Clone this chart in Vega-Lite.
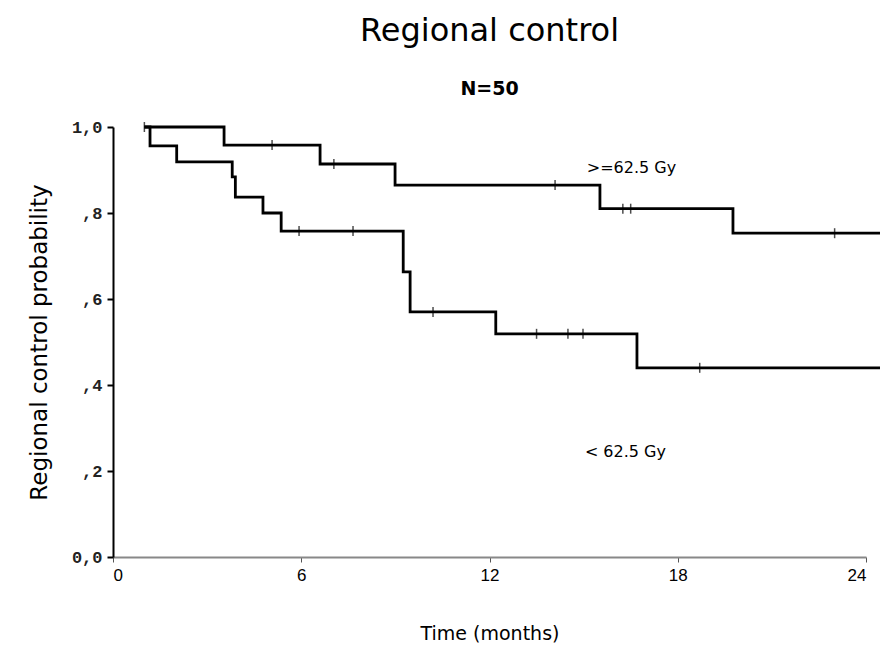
{
  "$schema": "https://vega.github.io/schema/vega-lite/v6.json",
  "autosize": {"type": "none"},
  "padding": {"left": 113, "top": 127, "right": 14, "bottom": 96},
  "width": 753,
  "height": 430,
  "background": "white",
  "title": {
    "text": "Regional control",
    "subtitle": "N=50",
    "anchor": "middle",
    "font": "DejaVu Sans",
    "fontSize": 32,
    "fontWeight": "normal",
    "color": "black",
    "subtitleFont": "DejaVu Sans",
    "subtitleFontSize": 19,
    "subtitleFontWeight": "bold",
    "subtitleColor": "black",
    "subtitlePadding": 32,
    "offset": 18
  },
  "config": {"view": {"stroke": null}},
  "datasets": {
    "curve": [
      {"group": ">=62.5 Gy", "t": 1.0, "p": 1.0},
      {"group": ">=62.5 Gy", "t": 3.54, "p": 0.958},
      {"group": ">=62.5 Gy", "t": 6.6, "p": 0.914},
      {"group": ">=62.5 Gy", "t": 8.99, "p": 0.865},
      {"group": ">=62.5 Gy", "t": 15.52, "p": 0.81},
      {"group": ">=62.5 Gy", "t": 19.76, "p": 0.753},
      {"group": ">=62.5 Gy", "t": 24.45, "p": 0.753},
      {"group": "< 62.5 Gy", "t": 1.0, "p": 1.0},
      {"group": "< 62.5 Gy", "t": 1.18, "p": 0.956},
      {"group": "< 62.5 Gy", "t": 2.03, "p": 0.919},
      {"group": "< 62.5 Gy", "t": 3.8, "p": 0.884},
      {"group": "< 62.5 Gy", "t": 3.9, "p": 0.837},
      {"group": "< 62.5 Gy", "t": 4.78, "p": 0.8},
      {"group": "< 62.5 Gy", "t": 5.36, "p": 0.758},
      {"group": "< 62.5 Gy", "t": 9.25, "p": 0.663},
      {"group": "< 62.5 Gy", "t": 9.47, "p": 0.57},
      {"group": "< 62.5 Gy", "t": 12.2, "p": 0.519},
      {"group": "< 62.5 Gy", "t": 16.7, "p": 0.44},
      {"group": "< 62.5 Gy", "t": 24.45, "p": 0.44}
    ],
    "censor": [
      {"group": ">=62.5 Gy", "t": 1.0, "p": 1.0},
      {"group": ">=62.5 Gy", "t": 5.07, "p": 0.958},
      {"group": ">=62.5 Gy", "t": 7.04, "p": 0.914},
      {"group": ">=62.5 Gy", "t": 14.09, "p": 0.865},
      {"group": ">=62.5 Gy", "t": 16.25, "p": 0.81},
      {"group": ">=62.5 Gy", "t": 16.5, "p": 0.81},
      {"group": ">=62.5 Gy", "t": 23.0, "p": 0.753},
      {"group": "< 62.5 Gy", "t": 5.93, "p": 0.758},
      {"group": "< 62.5 Gy", "t": 7.65, "p": 0.758},
      {"group": "< 62.5 Gy", "t": 10.2, "p": 0.57},
      {"group": "< 62.5 Gy", "t": 13.5, "p": 0.519},
      {"group": "< 62.5 Gy", "t": 14.5, "p": 0.519},
      {"group": "< 62.5 Gy", "t": 14.98, "p": 0.519},
      {"group": "< 62.5 Gy", "t": 18.7, "p": 0.44}
    ],
    "labels": [
      {"t": 15.1, "p": 0.905, "label": ">=62.5 Gy"},
      {"t": 15.04, "p": 0.244, "label": "< 62.5 Gy"}
    ]
  },
  "layer": [
    {
      "data": {"name": "curve"},
      "mark": {"type": "line", "interpolate": "step-after", "color": "black", "strokeWidth": 2.8, "clip": false},
      "encoding": {
        "x": {
          "field": "t", "type": "quantitative",
          "scale": {"domain": [0, 24], "nice": false, "zero": true},
          "axis": {
            "title": "Time (months)",
            "values": [0, 6, 12, 18, 24],
            "grid": false,
            "domainColor": "#888888",
            "domainWidth": 2,
            "tickColor": "#555555",
            "tickSize": 5,
            "labelFont": "Liberation Sans",
            "labelFontSize": 17,
            "labelColor": "black",
            "labelPadding": 5,
            "titleFont": "DejaVu Sans",
            "titleFontSize": 19,
            "titleFontWeight": "normal",
            "titleColor": "black",
            "titlePadding": 41
          }
        },
        "y": {
          "field": "p", "type": "quantitative",
          "scale": {"domain": [0, 1], "nice": false},
          "axis": {
            "title": "Regional control probability",
            "values": [0, 0.2, 0.4, 0.6, 0.8, 1.0],
            "labelExpr": "datum.value == 0 ? '0,0' : datum.value == 1 ? '1,0' : ',' + format(datum.value * 10, '.0f')",
            "grid": false,
            "domainColor": "black",
            "domainWidth": 2,
            "tickColor": "black",
            "tickSize": 6,
            "tickWidth": 2,
            "labelFont": "Liberation Mono",
            "labelFontSize": 17,
            "labelFontWeight": "bold",
            "labelColor": "#222222",
            "labelPadding": 5,
            "titleFont": "DejaVu Sans",
            "titleFontSize": 23,
            "titleFontWeight": "normal",
            "titleColor": "black",
            "titlePadding": 20
          }
        },
        "detail": {"field": "group", "type": "nominal"}
      }
    },
    {
      "data": {"name": "censor"},
      "mark": {"type": "tick", "orient": "vertical", "color": "black", "size": 10, "thickness": 1.5, "clip": false},
      "encoding": {
        "x": {"field": "t", "type": "quantitative"},
        "y": {"field": "p", "type": "quantitative"}
      }
    },
    {
      "data": {"name": "labels"},
      "mark": {"type": "text", "align": "left", "baseline": "middle", "font": "DejaVu Sans", "fontSize": 16, "color": "black"},
      "encoding": {
        "x": {"field": "t", "type": "quantitative"},
        "y": {"field": "p", "type": "quantitative"},
        "text": {"field": "label", "type": "nominal"}
      }
    }
  ]
}
